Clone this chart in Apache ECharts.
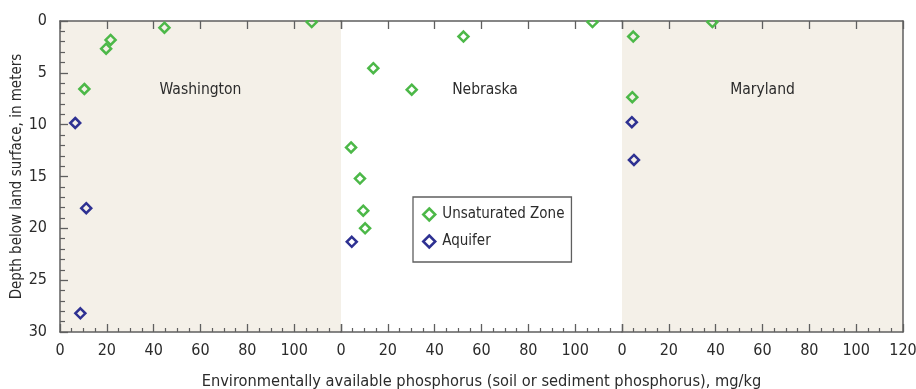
<!DOCTYPE html>
<html>
<head>
<meta charset="utf-8">
<script src="https://cdn.jsdelivr.net/npm/echarts@6/dist/echarts.min.js"></script>
<style>
  html, body { margin: 0; padding: 0; background: #fff; }
  #chart { width: 916px; height: 389px; }
</style>
</head>
<body>
<div id="chart"></div>
<script>
// panels, left to right
const panelNames = ['Washington', 'Nebraska', 'Maryland'];

// [phosphorus mg/kg, depth m]
const washUnsat = [[44.6, 0.65], [107.5, 0.1], [21.6, 1.83], [19.7, 2.67], [10.4, 6.56]];
const washAquifer = [[6.5, 9.84], [11.2, 18.06], [8.7, 28.2]];

const nebUnsat = [[13.8, 4.55], [30.2, 6.63], [52.3, 1.5], [107.4, 0.1], [4.3, 12.2], [8.1, 15.2], [9.5, 18.3], [10.3, 20.0]];
const nebAquifer = [[4.6, 21.3]];

const mdUnsat = [[4.8, 1.5], [4.4, 7.35], [38.6, 0.1]];
const mdAquifer = [[4.2, 9.76], [5.1, 13.4]];

const unsatData = [washUnsat, nebUnsat, mdUnsat];
const aquiferData = [washAquifer, nebAquifer, mdAquifer];

const GREEN = '#4cb848';
const BLUE = '#2e3192';
const BEIGE = '#f4f0e8';
const AXIS = '#5f5f5f';
const TEXT = '#2b2b2b';
const FONT = '"Liberation Sans Narrow", "DejaVu Sans Condensed", sans-serif';

const chart = echarts.init(document.getElementById('chart'));

const grids = [], xAxes = [], yAxes = [], series = [];
const lefts = [60, 341, 622];

lefts.forEach((left, i) => {
  grids.push({
    left: left, top: 21, width: 281, height: 311,
    outerBoundsMode: 'none', containLabel: false,
    show: true, borderWidth: 0,
    backgroundColor: i === 1 ? '#ffffff' : BEIGE
  });

  // bottom axis
  xAxes.push({
    type: 'value', gridIndex: i, position: 'bottom',
    min: 0, max: 120, interval: 20,
    axisLine: { show: true, onZero: false, lineStyle: { color: AXIS, width: 1.5 } },
    axisTick: { show: true, inside: true, length: 8, lineStyle: { color: AXIS, width: 1.3 } },
    minorTick: { show: true, splitNumber: 4, length: 4, lineStyle: { color: AXIS, width: 1.2 } },
    splitLine: { show: false },
    axisLabel: {
      show: true, showMinLabel: true, showMaxLabel: true,
      margin: 11, fontSize: 16, color: TEXT, fontFamily: FONT,
      formatter: v => (i < 2 && v === 120) ? '' : String(v)
    },
    name: i === 1 ? 'Environmentally available phosphorus (soil or sediment phosphorus), mg/kg' : '',
    nameLocation: 'middle', nameGap: 42,
    nameTextStyle: { fontSize: 16.3, color: TEXT, fontFamily: FONT }
  });

  // top axis
  xAxes.push({
    type: 'value', gridIndex: i, position: 'top',
    min: 0, max: 120, interval: 20,
    axisLine: { show: true, onZero: false, lineStyle: { color: AXIS, width: 1.5 } },
    axisTick: { show: true, inside: true, length: 8, lineStyle: { color: AXIS, width: 1.3 } },
    splitLine: { show: false },
    axisLabel: { show: false }
  });

  // depth axis
  yAxes.push({
    type: 'value', gridIndex: i, inverse: true,
    min: 0, max: 30, interval: 5,
    position: 'left',
    axisLine: { show: i === 0, onZero: false, lineStyle: { color: AXIS, width: 1.5 } },
    axisTick: { show: i === 0, inside: true, length: 8, lineStyle: { color: AXIS, width: 1.3 } },
    minorTick: { show: i === 0, splitNumber: 5, length: 5, lineStyle: { color: AXIS, width: 1.2 } },
    splitLine: { show: false },
    axisLabel: { show: i === 0, margin: 13, fontSize: 16, color: TEXT, fontFamily: FONT },
    name: i === 0 ? 'Depth below land surface, in meters' : '',
    nameLocation: 'middle', nameGap: 35,
    nameTextStyle: { fontSize: 15, color: TEXT, fontFamily: FONT }
  });

  const sym = color => ({
    type: 'scatter', xAxisIndex: i * 2, yAxisIndex: i,
    symbol: 'diamond', symbolSize: 10, clip: false,
    itemStyle: { color: 'transparent', borderColor: color, borderWidth: 2.5, opacity: 1 },
    emphasis: { disabled: true }, z: 3
  });

  series.push(Object.assign(sym(GREEN), { name: 'Unsaturated Zone', data: unsatData[i] }));
  series.push(Object.assign(sym(BLUE), { name: 'Aquifer', data: aquiferData[i] }));

  // panel name
  series.push({
    type: 'scatter', xAxisIndex: i * 2, yAxisIndex: i,
    symbolSize: 0, silent: true,
    itemStyle: { opacity: 1 },
    data: [[i === 1 ? 61.5 : 60, 6.65]],
    label: {
      show: true, position: 'inside', formatter: panelNames[i],
      fontSize: 15.5, color: TEXT, fontFamily: FONT
    }
  });
});

// right-hand y axis closes the frame
yAxes.push({
  type: 'value', gridIndex: 2, inverse: true, min: 0, max: 30, position: 'right',
  axisLine: { show: true, onZero: false, lineStyle: { color: AXIS, width: 1.5 } },
  axisTick: { show: false }, axisLabel: { show: false }, splitLine: { show: false }
});

const option = {
  animation: false,
  backgroundColor: '#ffffff',
  grid: grids,
  xAxis: xAxes,
  yAxis: yAxes,
  legend: {
    left: 413, top: 197,
    orient: 'vertical',
    backgroundColor: '#ffffff',
    borderColor: AXIS, borderWidth: 1.3,
    padding: [10, 7, 13, 9],
    itemGap: 12, itemWidth: 12, itemHeight: 12,
    textStyle: { fontSize: 15, color: TEXT, fontFamily: FONT, padding: [0, 0, 0, 2] },
    data: [
      { name: 'Unsaturated Zone', icon: 'diamond', itemStyle: { color: 'transparent', borderColor: GREEN, borderWidth: 2.5 } },
      { name: 'Aquifer', icon: 'diamond', itemStyle: { color: 'transparent', borderColor: BLUE, borderWidth: 2.5 } }
    ]
  },
  // white band above the frame, markers at the surface are cut by it
  graphic: [{
    type: 'rect', z: 100, silent: true,
    shape: { x: 59, y: 0, width: 857, height: 20 },
    style: { fill: '#ffffff' }
  }],
  series: series
};

chart.setOption(option);
</script>
</body>
</html>
